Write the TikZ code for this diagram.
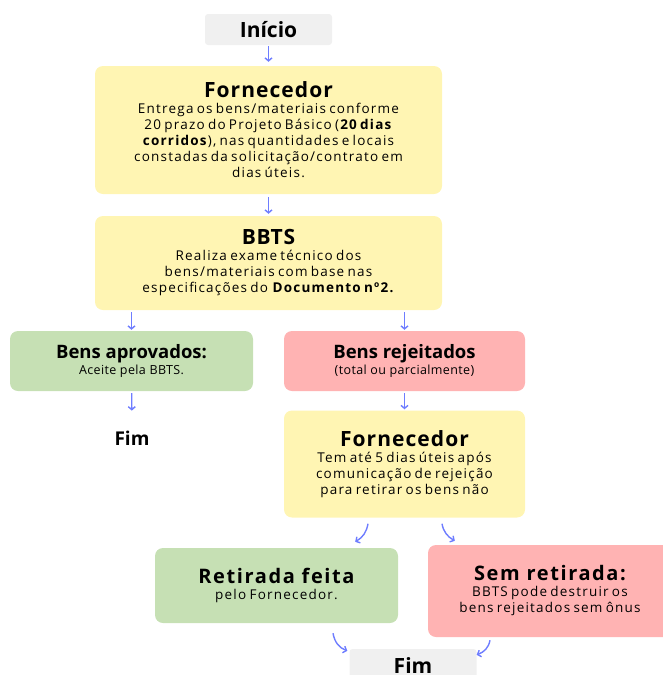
\documentclass[tikz,border=0pt]{standalone}
\usepackage{fontspec}
\setmainfont{Open Sans}
\newfontfamily\corpo{Open Sans}[LetterSpace=9, WordSpace=0.7]
\newfontfamily\largoA{Open Sans}[LetterSpace=5]
\newfontfamily\largoB{Open Sans}[LetterSpace=8]
\newfontfamily\largoC{Open Sans}[LetterSpace=3]
\usetikzlibrary{arrows.meta,positioning}
\definecolor{caixaamarela}{HTML}{FFF5B3}
\definecolor{caixaverde}{HTML}{C6E0B4}
\definecolor{caixavermelha}{HTML}{FFB3B3}
\definecolor{caixacinza}{HTML}{F0F0F0}
\definecolor{corseta}{HTML}{6E7DFF}
\newcommand{\titulo}[1]{{\largoA\fontsize{21}{16}\selectfont\bfseries #1}}
\newcommand{\titulolargo}[1]{{\largoB\fontsize{20}{16}\selectfont\bfseries #1}}
\newcommand{\subtexto}[1]{{\largoC\fontsize{12.5}{14}\selectfont #1}}
\tikzset{
  etapa/.style={rounded corners=8pt, align=center, inner sep=0pt,
    font=\corpo\fontsize{13.5}{16}\selectfont},
  limite/.style={fill=caixacinza, rounded corners=3pt, inner sep=0pt,
    minimum width=127pt, minimum height=31pt, font=\fontsize{21}{22}\selectfont\bfseries},
  seta/.style={draw=corseta, line width=1.4pt, -{Straight Barb[length=3pt,width=7pt]}},
}
\begin{document}
\begin{tikzpicture}[x=1pt,y=-1pt]
  \useasboundingbox (0,0) rectangle (663,675);
  \clip (0,0) rectangle (663,675);
  % inicio e primeiro fluxo
  \node[limite] (inicio) at (268.5,29.5) {Início};
  \node[etapa, fill=caixaamarela, minimum width=347pt, minimum height=128pt] (forn1) at (268.5,130)
    {\titulo{Fornecedor}\\
     Entrega os bens/materiais conforme\\
     20 prazo do Projeto Básico (\textbf{20 dias}\\
     \textbf{corridos}), nas quantidades e locais\\
     constadas da solicitação/contrato em\\
     dias úteis.};
  \node[etapa, fill=caixaamarela, minimum width=347pt, minimum height=94pt] (bbts) at (268.5,263)
    {{\largoC\fontsize{21}{16}\selectfont\bfseries BBTS}\\
     Realiza exame técnico dos\\
     bens/materiais com base nas\\
     especificações do \textbf{Documento nº2.}};
  % resultado do exame
  \node[etapa, fill=caixaverde, minimum width=243pt, minimum height=60pt] (aprov) at (131.5,361)
    {{\rmfamily\fontsize{18.5}{16}\selectfont\bfseries Bens aprovados:}\\
     \subtexto{Aceite pela BBTS.}};
  \node[etapa, fill=caixavermelha, minimum width=241pt, minimum height=60pt] (rejeit) at (404.5,361)
    {{\rmfamily\fontsize{18.5}{16}\selectfont\bfseries Bens rejeitados}\\
     \subtexto{(total ou parcialmente)}};
  \node[inner sep=0pt, font=\fontsize{19}{20}\selectfont\bfseries] (fim1) at (132,438) {Fim};
  \node[etapa, fill=caixaamarela, minimum width=241pt, minimum height=107pt] (forn2) at (404.5,464)
    {\titulo{Fornecedor}\\
     Tem até 5 dias úteis após\\
     comunicação de rejeição\\
     para retirar os bens não};
  % retirada
  \node[etapa, fill=caixaverde, minimum width=243pt, minimum height=75pt] (retir) at (276.5,585.5)
    {\titulolargo{Retirada feita}\\
     pelo Fornecedor.};
  \node[etapa, fill=caixavermelha, minimum width=244pt, minimum height=92pt] (semret) at (550,591)
    {\titulolargo{Sem retirada:}\\
     BBTS pode destruir os\\
     bens rejeitados sem ônus};
  \node[limite, minimum height=36pt, text height=12pt] (fim2) at (413,667) {Fim};
  % conectores
  \draw[seta, shorten <=1pt, shorten >=4pt] (inicio) -- (forn1);
  \draw[seta, shorten <=3pt, shorten >=2pt] (forn1) -- (bbts);
  \draw[seta, shorten <=2pt, shorten >=1pt] (bbts.south -| aprov) -- (aprov);
  \draw[seta, shorten <=2pt, shorten >=1pt] (bbts.south -| rejeit) -- (rejeit);
  \draw[seta, shorten <=2pt, shorten >=20pt] (aprov) -- (fim1);
  \draw[seta, shorten <=2pt, shorten >=1pt] (rejeit) -- (forn2);
  \draw[seta] ([xshift=-36.5pt,yshift=-6pt]forn2.south) to[out=-100,in=30] ([xshift=-43pt,yshift=6pt]retir.north east);
  \draw[seta] ([xshift=37.5pt,yshift=-6pt]forn2.south) to[out=-80,in=150] ([xshift=27pt,yshift=4pt]semret.north west);
  \draw[seta] ([xshift=56.5pt,yshift=-10pt]retir.south) to[out=-80,in=160] ([xshift=-2pt,yshift=-2pt]fim2.north west);
  \draw[seta] ([xshift=-60pt,yshift=-3pt]semret.south) to[out=-100,in=20] ([yshift=-6pt]fim2.north east);
\end{tikzpicture}
\end{document}
